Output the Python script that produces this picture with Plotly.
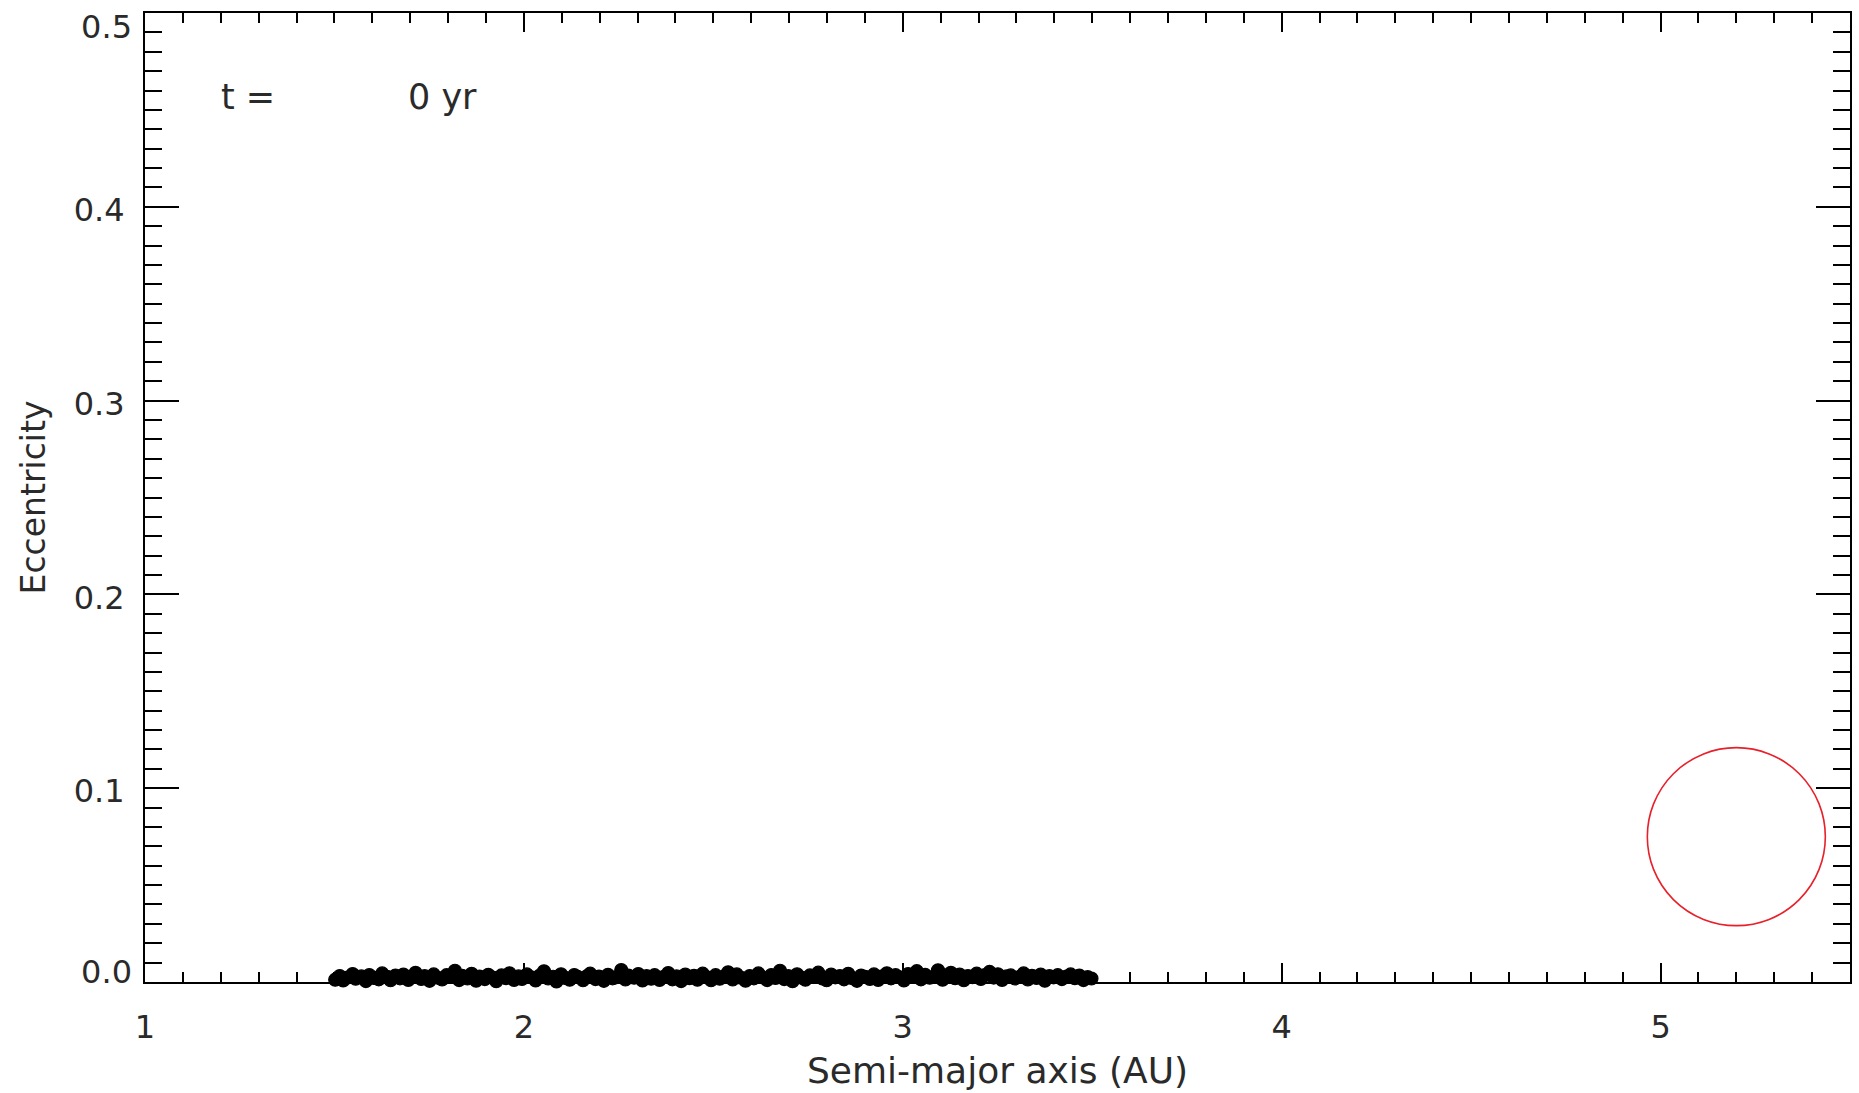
import plotly.graph_objects as go

# Asteroid semi-major axes (AU) and eccentricities at t = 0
semi_major_axis = [
    1.502, 1.514, 1.523, 1.537, 1.548, 1.556, 1.571, 1.583, 1.592, 1.604,
    1.617, 1.626, 1.639, 1.648, 1.661, 1.673, 1.682, 1.695, 1.706, 1.714,
    1.729, 1.738, 1.751, 1.762, 1.773, 1.784, 1.796, 1.805, 1.818, 1.829,
    1.837, 1.851, 1.862, 1.874, 1.883, 1.897, 1.906, 1.918, 1.927, 1.941,
    1.953, 1.962, 1.974, 1.986, 1.995, 2.008, 2.019, 2.031, 2.042, 2.053,
    2.064, 2.077, 2.086, 2.098, 2.109, 2.121, 2.133, 2.142, 2.156, 2.167,
    2.175, 2.189, 2.198, 2.211, 2.222, 2.234, 2.243, 2.257, 2.268, 2.276,
    2.291, 2.302, 2.313, 2.324, 2.336, 2.345, 2.358, 2.369, 2.381, 2.392,
    2.403, 2.415, 2.426, 2.437, 2.449, 2.458, 2.472, 2.483, 2.494, 2.506,
    2.517, 2.528, 2.539, 2.551, 2.562, 2.573, 2.585, 2.596, 2.607, 2.619,
    2.628, 2.642, 2.653, 2.664, 2.676, 2.687, 2.698, 2.709, 2.721, 2.732,
    2.743, 2.755, 2.766, 2.777, 2.788, 2.799, 2.811, 2.822, 2.834, 2.845,
    2.856, 2.867, 2.879, 2.890, 2.901, 2.913, 2.924, 2.935, 2.946, 2.958,
    2.969, 2.981, 2.992, 3.003, 3.014, 3.026, 3.037, 3.048, 3.059, 3.071,
    3.082, 3.093, 3.105, 3.116, 3.127, 3.138, 3.150, 3.161, 3.172, 3.184,
    3.195, 3.206, 3.217, 3.229, 3.240, 3.251, 3.262, 3.274, 3.285, 3.296,
    3.308, 3.319, 3.330, 3.341, 3.353, 3.364, 3.375, 3.387, 3.398, 3.409,
    3.420, 3.432, 3.443, 3.454, 3.466, 3.477, 3.488, 3.498,
]
eccentricity = [
    0.0012, 0.0031, 0.0008, 0.0024, 0.0041, 0.0017, 0.0029, 0.0005, 0.0036, 0.0021,
    0.0014, 0.0044, 0.0027, 0.0009, 0.0033, 0.0019, 0.0038, 0.0011, 0.0025, 0.0047,
    0.0016, 0.0030, 0.0006, 0.0039, 0.0022, 0.0013, 0.0035, 0.0026, 0.0058, 0.0010,
    0.0032, 0.0018, 0.0042, 0.0007, 0.0028, 0.0015, 0.0037, 0.0023, 0.0004, 0.0034,
    0.0020, 0.0045, 0.0011, 0.0029, 0.0016, 0.0039, 0.0024, 0.0008, 0.0033, 0.0055,
    0.0018, 0.0027, 0.0003, 0.0040, 0.0021, 0.0012, 0.0036, 0.0026, 0.0009, 0.0031,
    0.0043, 0.0015, 0.0028, 0.0006, 0.0037, 0.0019, 0.0024, 0.0062, 0.0013, 0.0033,
    0.0022, 0.0041, 0.0008, 0.0030, 0.0017, 0.0035, 0.0011, 0.0026, 0.0046, 0.0014,
    0.0029, 0.0005, 0.0038, 0.0020, 0.0032, 0.0012, 0.0043, 0.0024, 0.0009, 0.0035,
    0.0017, 0.0028, 0.0050, 0.0013, 0.0039, 0.0022, 0.0007, 0.0031, 0.0019, 0.0044,
    0.0025, 0.0010, 0.0036, 0.0021, 0.0058, 0.0015, 0.0030, 0.0004, 0.0040, 0.0023,
    0.0012, 0.0034, 0.0027, 0.0048, 0.0018, 0.0009, 0.0038, 0.0024, 0.0031, 0.0014,
    0.0042, 0.0020, 0.0006, 0.0033, 0.0026, 0.0016, 0.0039, 0.0011, 0.0029, 0.0045,
    0.0019, 0.0035, 0.0024, 0.0008, 0.0041, 0.0030, 0.0056, 0.0014, 0.0037, 0.0022,
    0.0027, 0.0060, 0.0012, 0.0034, 0.0047, 0.0020, 0.0038, 0.0009, 0.0031, 0.0025,
    0.0043, 0.0016, 0.0036, 0.0052, 0.0023, 0.0040, 0.0011, 0.0029, 0.0034, 0.0018,
    0.0026, 0.0044, 0.0013, 0.0032, 0.0021, 0.0038, 0.0007, 0.0030, 0.0024, 0.0035,
    0.0015, 0.0028, 0.0039, 0.0020, 0.0033, 0.0010, 0.0025, 0.0018,
]

# Planet (Jupiter) marker
planet_a = [5.2]
planet_e = [0.075]

x_ticks = [1, 2, 3, 4, 5]
x_tick_labels = ["1", "2", "3", "4", "5"]
y_ticks_inner = [0.1, 0.2, 0.3, 0.4]
y_tick_labels_inner = ["0.1", "0.2", "0.3", "0.4"]
y_tick_bottom = [0.0]
y_tick_label_bottom = ["0.0"]
y_tick_top = [0.5]
y_tick_label_top = ["0.5"]

time_label = "t ="
time_value = "0 yr"

FONT = "DejaVu Sans"
TXT = "#2a2a2a"
Y_RANGE = [0, 0.5]

fig = go.Figure()
fig.add_trace(go.Scatter(
    x=semi_major_axis, y=eccentricity, mode="markers",
    marker=dict(symbol="circle", size=13, color="black",
                line=dict(width=1.2, color="black")),
    cliponaxis=False, showlegend=False, hoverinfo="skip",
))
fig.add_trace(go.Scatter(
    x=planet_a, y=planet_e, mode="markers",
    marker=dict(symbol="circle-open", size=178, color="#e8202a",
                line=dict(width=1.6, color="#e8202a")),
    showlegend=False, hoverinfo="skip",
))
# empty traces so the label-only overlay axes get drawn
for ax_name in ("y2", "y3"):
    fig.add_trace(go.Scatter(x=[], y=[], yaxis=ax_name, mode="markers",
                             showlegend=False, hoverinfo="skip"))

label_axis = dict(
    range=Y_RANGE, overlaying="y", side="left", anchor="x",
    showgrid=False, zeroline=False, showline=False, ticks="",
    ticklabelstandoff=12, ticklabeloverflow="allow",
    tickfont=dict(family=FONT, size=32, color=TXT),
)

fig.update_layout(
    width=1859, height=1093,
    margin=dict(l=145, r=7, t=13, b=111),
    paper_bgcolor="white", plot_bgcolor="white",
    font=dict(family=FONT, size=32, color=TXT),
    xaxis=dict(
        range=[1, 5.5], tickvals=x_ticks, ticktext=x_tick_labels,
        showgrid=False, zeroline=False,
        showline=True, linecolor="black", linewidth=2, mirror="ticks",
        ticks="inside", ticklen=19, tickwidth=1.5, tickcolor="black",
        minor=dict(dtick=0.1, ticks="inside", ticklen=10, tickwidth=1.5,
                   tickcolor="black", showgrid=False),
        ticklabelstandoff=16,
        tickfont=dict(family=FONT, size=32, color=TXT),
        title=dict(text="Semi-major axis (AU)", standoff=12,
                   font=dict(family=FONT, size=36, color=TXT)),
    ),
    yaxis=dict(
        range=Y_RANGE, tickvals=y_ticks_inner, ticktext=y_tick_labels_inner,
        showgrid=False, zeroline=False,
        showline=True, linecolor="black", linewidth=2, mirror="ticks",
        ticks="inside", ticklen=34, tickwidth=1.5, tickcolor="black",
        minor=dict(dtick=0.01, ticks="inside", ticklen=17, tickwidth=1.5,
                   tickcolor="black", showgrid=False),
        ticklabelstandoff=12, ticklabelshift=3,
        tickfont=dict(family=FONT, size=32, color=TXT),
        title=dict(text="Eccentricity", standoff=18,
                   font=dict(family=FONT, size=33, color=TXT)),
    ),
    yaxis2=dict(label_axis, tickvals=y_tick_bottom, ticktext=y_tick_label_bottom,
                ticklabelshift=-10),
    yaxis3=dict(label_axis, tickvals=y_tick_top, ticktext=y_tick_label_top,
                ticklabelshift=14),
    annotations=[
        dict(text=time_label, xref="paper", yref="paper",
             x=(219 - 145) / 1707, y=(982 - 97) / 969,
             xanchor="left", yanchor="middle", showarrow=False,
             font=dict(family=FONT, size=35, color=TXT)),
        dict(text=time_value, xref="paper", yref="paper",
             x=(406 - 145) / 1707, y=(982 - 97) / 969,
             xanchor="left", yanchor="middle", showarrow=False,
             font=dict(family=FONT, size=35, color=TXT)),
    ],
)

fig.write_html("out.html")
